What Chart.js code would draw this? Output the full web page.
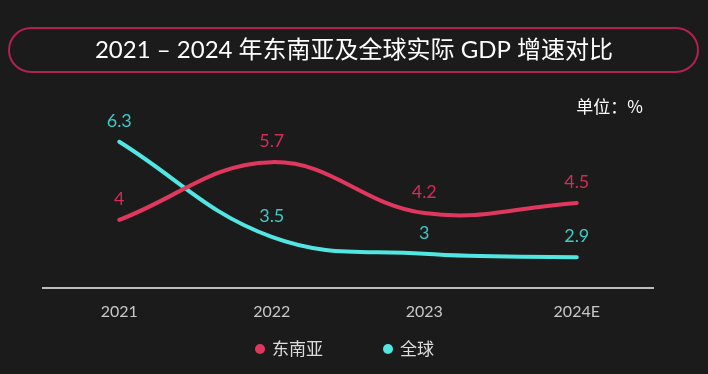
<!DOCTYPE html>
<html lang="zh">
<head>
<meta charset="UTF-8">
<title>2021 – 2024 年东南亚及全球实际 GDP 增速对比</title>
<script src="https://cdn.jsdelivr.net/npm/chart.js"></script>
<style>
  html, body { margin: 0; padding: 0; background: #1b1b1b; }
  #wrap { width: 708px; height: 374px; }
</style>
</head>
<body>
<div id="wrap"><canvas id="gdpChart"></canvas></div>
<script>
// chart data
const years = ["2021", "2022", "2023", "2024E"];
const seAsia = [4, 5.7, 4.2, 4.5];
const world = [6.3, 3.5, 3, 2.9];
const seriesNames = ["东南亚", "全球"];
const titleText = "2021 – 2024 年东南亚及全球实际 GDP 增速对比";
const unitText = "单位：%";

const PINK = "#e0375f", PINK_LABEL = "#d12d58";
const CYAN = "#52e6e2", CYAN_LABEL = "#3ccbc5";
const FONT = "Lato, 'Noto Sans CJK SC', sans-serif";
const CJK = "'Noto Sans CJK SC', sans-serif";

function roundRect(ctx, x, y, w, h, r) {
    ctx.beginPath();
    ctx.moveTo(x + r, y);
    ctx.arcTo(x + w, y, x + w, y + h, r);
    ctx.arcTo(x + w, y + h, x, y + h, r);
    ctx.arcTo(x, y + h, x, y, r);
    ctx.arcTo(x, y, x + w, y, r);
    ctx.closePath();
}

// title box, unit note, point labels and legend
const decor = {
    id: "decor",
    afterDraw(chart) {
        const ctx = chart.ctx;
        ctx.save();

        // title in a rounded box
        ctx.strokeStyle = "#b3214e";
        ctx.lineWidth = 2;
        roundRect(ctx, 9, 28, 689, 44, 22);
        ctx.stroke();
        ctx.fillStyle = "#ffffff";
        ctx.font = "24px " + FONT;
        ctx.textAlign = "center";
        ctx.textBaseline = "middle";
        ctx.fillText(titleText, 354, 50);

        // unit
        ctx.font = "17px " + CJK;
        ctx.textAlign = "right";
        ctx.fillText(unitText, 643, 107);

        // value labels above each point
        ctx.font = "18px " + FONT;
        ctx.textAlign = "center";
        chart.data.datasets.forEach((ds, i) => {
            const meta = chart.getDatasetMeta(i);
            ctx.fillStyle = ds.labelColor;
            meta.data.forEach((pt, j) => {
                ctx.fillText(String(ds.data[j]), pt.x, pt.y - 21);
            });
        });

        // legend
        const legendX = [260, 388];
        ctx.font = "17px " + CJK;
        ctx.textAlign = "left";
        chart.data.datasets.forEach((ds, i) => {
            ctx.fillStyle = ds.borderColor;
            ctx.beginPath();
            ctx.arc(legendX[i], 349, 5, 0, Math.PI * 2);
            ctx.fill();
            ctx.fillStyle = "#dddddd";
            ctx.fillText(ds.label, legendX[i] + 12, 349);
        });

        ctx.restore();
    }
};

new Chart(document.getElementById("gdpChart"), {
    type: "line",
    data: {
        labels: years,
        datasets: [
            {
                label: seriesNames[0],
                data: seAsia,
                borderColor: PINK,
                labelColor: PINK_LABEL,
                borderWidth: 4,
                tension: 0.4,
                pointRadius: 0,
                borderCapStyle: "round"
            },
            {
                label: seriesNames[1],
                data: world,
                borderColor: CYAN,
                labelColor: CYAN_LABEL,
                borderWidth: 4,
                tension: 0.4,
                pointRadius: 0,
                borderCapStyle: "round"
            }
        ]
    },
    options: {
        responsive: true,
        maintainAspectRatio: false,
        animation: false,
        layout: { padding: { top: 101, left: 43, right: 55, bottom: 39 } },
        plugins: {
            legend: { display: false },
            tooltip: { enabled: false }
        },
        scales: {
            x: {
                offset: true,
                grid: { display: false, drawTicks: false },
                border: { color: "#bdbdbd", width: 2 },
                ticks: { color: "#c8c8c8", font: { size: 16, family: FONT }, padding: 14 }
            },
            y: {
                display: false,
                min: 2,
                max: 7.5
            }
        }
    },
    plugins: [decor]
});
</script>
</body>
</html>
